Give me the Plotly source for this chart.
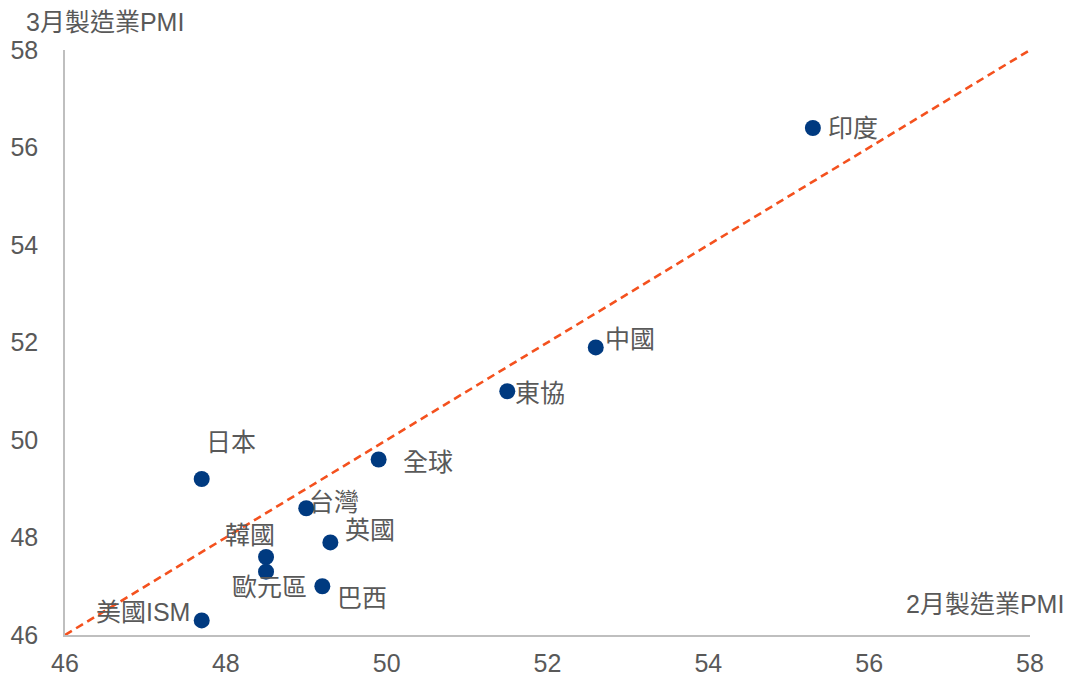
import plotly.graph_objects as go

countries = ["印度", "中國", "東協", "全球", "日本", "台灣", "英國", "韓國", "歐元區", "巴西", "美國ISM"]
feb_pmi = [55.3, 52.6, 51.5, 49.9, 47.7, 49.0, 49.3, 48.5, 48.5, 49.2, 47.7]
mar_pmi = [56.4, 51.9, 51.0, 49.6, 49.2, 48.6, 47.9, 47.6, 47.3, 47.0, 46.3]
# label offsets in pixels (dx, dy) relative to each point, with anchor
label_pos = {
    "印度": (13, 0, "left"),
    "中國": (7, 8, "left"),
    "東協": (6, -2, "left"),
    "全球": (22, -2, "left"),
    "日本": (2, 37, "left"),
    "台灣": (1, 6, "left"),
    "英國": (13, 12, "left"),
    "韓國": (11, 22, "right"),
    "歐元區": (43, -15, "right"),
    "巴西": (13, -12, "left"),
    "美國ISM": (-10, 8, "right"),
}
axis_ticks = [46, 48, 50, 52, 54, 56, 58]

FONT = "Liberation Sans, Arial, Noto Sans CJK TC, sans-serif"
GREY = "#595959"

fig = go.Figure()
fig.add_trace(go.Scatter(
    x=[46, 58], y=[46, 58], mode="lines",
    line=dict(color="#F4511E", width=2.6, dash="8px,5px"),
    hoverinfo="skip", showlegend=False,
))
fig.add_trace(go.Scatter(
    x=feb_pmi, y=mar_pmi, mode="markers",
    marker=dict(color="#003A80", size=16),
    text=countries, showlegend=False,
))

for c, x, y in zip(countries, feb_pmi, mar_pmi):
    dx, dy, anc = label_pos[c]
    fig.add_annotation(
        x=x, y=y, text=c, showarrow=False, xanchor=anc, yanchor="middle",
        xshift=dx, yshift=dy, font=dict(size=25, color=GREY, family=FONT),
    )

fig.add_annotation(
    xref="paper", yref="paper", x=0, y=1.0, xshift=-41, yshift=28, text="3月製造業PMI",
    showarrow=False, xanchor="left", yanchor="middle",
    font=dict(size=25, color=GREY, family=FONT),
)
fig.add_annotation(
    xref="paper", yref="paper", x=1.0, y=0.0, xshift=36, yshift=31, text="2月製造業PMI",
    showarrow=False, xanchor="right", yanchor="middle",
    font=dict(size=25, color=GREY, family=FONT),
)

axis_common = dict(
    range=[46, 58], tickvals=axis_ticks, showgrid=False, zeroline=False,
    showline=True, linecolor="#BFBFBF", linewidth=1.5,
    ticks="", tickfont=dict(size=25, color=GREY, family=FONT),
    automargin=False,
)
fig.update_xaxes(**axis_common, ticklabelstandoff=5)
fig.update_yaxes(**axis_common, ticklabelstandoff=20)

fig.update_layout(
    width=1069, height=677,
    margin=dict(l=65, r=39, t=50, b=42),
    plot_bgcolor="white", paper_bgcolor="white",
    font=dict(family=FONT, color=GREY),
)

fig.write_html("out.html")
